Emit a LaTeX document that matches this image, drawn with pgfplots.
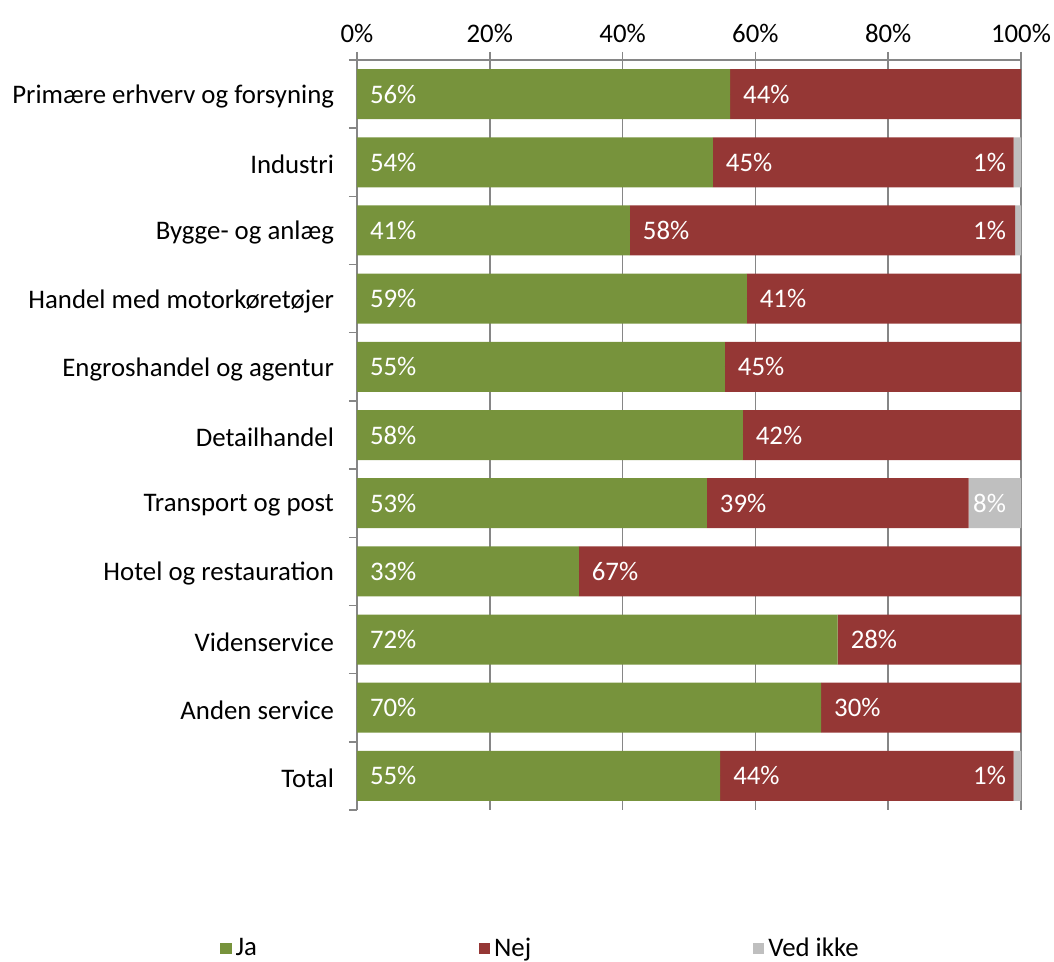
\documentclass[border=0pt]{standalone}
\usepackage{fontspec}
\setmainfont{Carlito}
\usepackage{pgfplots}
\pgfplotsset{compat=1.18}
\usepackage{pgfplotstable}
\definecolor{jacol}{HTML}{77933C}
\definecolor{nejcol}{HTML}{953735}
\definecolor{vedcol}{HTML}{BFBFBF}
\definecolor{axgray}{HTML}{868686}

\pgfplotstableread{
idx ja nej ved
0 56.2 43.8 0
1 53.6 45.3 1.1
2 41.1 58.0 0.9
3 58.7 41.3 0
4 55.4 44.6 0
5 58.1 41.9 0
6 52.7 39.4 7.9
7 33.4 66.6 0
8 72.4 27.6 0
9 69.9 30.1 0
10 54.7 44.2 1.1
}\datatable

\newcommand{\lblfont}{\fontsize{13.4}{16}\selectfont}

\begin{document}
\begin{tikzpicture}
\useasboundingbox (-178.5pt,-76pt) rectangle (348.5pt,405pt);
\begin{axis}[
  at={(0pt,0pt)}, anchor=south west,
  scale only axis, width=332pt, height=375pt,
  xbar stacked, bar width=25pt,
  xmin=0, xmax=100, ymin=-0.5, ymax=10.5, y dir=reverse,
  axis x line*=top, axis y line*=left,
  axis line style={axgray, line width=0.75pt},
  tick style={axgray, line width=0.75pt},
  tick align=outside, major tick length=4pt,
  xmajorgrids, grid style={axgray, line width=0.75pt},
  xtick={0,20,...,100},
  xticklabels={0\%,20\%,40\%,60\%,80\%,100\%},
  xticklabel style={font=\lblfont, yshift=1pt},
  ytick={-0.5,0.5,...,10.5},
  yticklabels={,,,,,,,,,,,,},
  extra y ticks={0,1,...,10},
  extra y tick labels={Primære erhverv og forsyning, Industri, Bygge- og anlæg, Handel med motorkøretøjer, Engroshandel og agentur, Detailhandel, Transport og post, Hotel og restauration, Videnservice, Anden service, Total},
  extra y tick style={major tick length=0pt, yticklabel style={font=\lblfont, xshift=-8pt, yshift=-1.2pt}},
  legend style={at={(-0.2154,-0.1850)}, anchor=west, draw=none, fill=none,
    legend columns=3, font=\lblfont,
    /tikz/every even column/.append style={column sep=109pt}},
  legend cell align=left,
  legend image code/.code={\fill[#1] (0pt,-2.8pt) rectangle (5.6pt,2.8pt);},
]
\addplot[fill=jacol, draw=none] table[x=ja, y=idx] {\datatable};
\addplot[fill=nejcol, draw=none] table[x=nej, y=idx] {\datatable};
\addplot[fill=vedcol, draw=none] table[x=ved, y=idx] {\datatable};
\legend{Ja, Nej, Ved ikke}
\end{axis}
\begin{axis}[
  at={(0pt,0pt)}, anchor=south west,
  scale only axis, width=332pt, height=375pt,
  xmin=0, xmax=100, ymin=-0.5, ymax=10.5, y dir=reverse,
  hide axis,
  /pgf/number format/assume math mode=true,
  nodes near coords={\pgfmathprintnumber[fixed, precision=0]{\pgfplotspointmeta}\%},
  point meta=explicit,
]
\addplot[only marks, mark=*, mark size=0pt, mark options={draw=none, fill=none},
  every node near coord/.append style={anchor=west, text=white, font=\lblfont, xshift=3pt}]
  table[x expr=0, y=idx, meta=ja] {\datatable};
\addplot[only marks, mark=*, mark size=0pt, mark options={draw=none, fill=none},
  every node near coord/.append style={anchor=west, text=white, font=\lblfont, xshift=3pt}]
  table[x=ja, y=idx, meta=nej] {\datatable};
\addplot[only marks, mark=*, mark size=0pt, mark options={draw=none, fill=none},
  restrict expr to domain={\thisrow{ved}}{0.5:100},
  every node near coord/.append style={anchor=east, text=white, font=\lblfont, xshift=-4pt}]
  table[x expr=100, y=idx, meta=ved] {\datatable};
\end{axis}
\end{tikzpicture}
\end{document}
